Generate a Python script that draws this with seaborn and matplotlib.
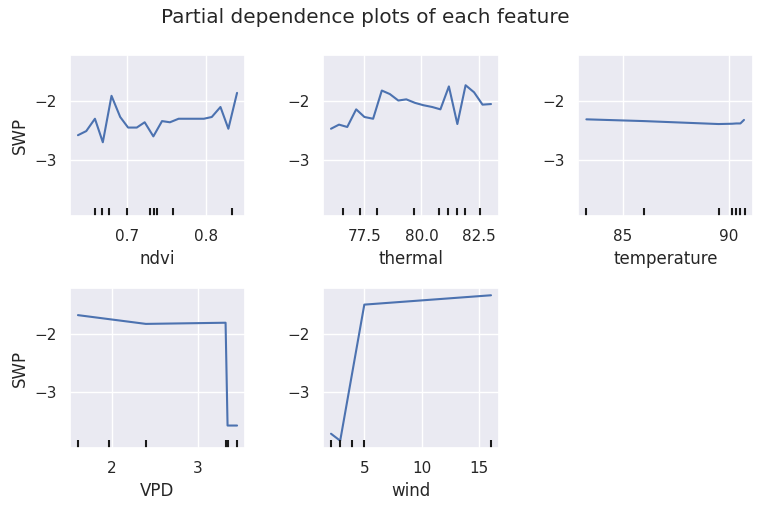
import numpy as np
import pandas as pd
import matplotlib
matplotlib.use("Agg")
import matplotlib.pyplot as plt
import matplotlib.transforms as mtransforms
from matplotlib.ticker import MaxNLocator
import seaborn as sns

features = ["ndvi", "thermal", "temperature", "VPD", "wind"]
target = "SWP"

ndvi_x = [0.6375, 0.648, 0.659, 0.669, 0.680, 0.691, 0.701, 0.712, 0.722, 0.733,
          0.744, 0.754, 0.765, 0.775, 0.786, 0.797, 0.807, 0.818, 0.828, 0.839]
ndvi_y = [-2.58, -2.51, -2.30, -2.70, -1.91, -2.27, -2.45, -2.45, -2.36, -2.60,
          -2.34, -2.36, -2.30, -2.30, -2.30, -2.30, -2.27, -2.10, -2.47, -1.86]
ndvi_dec = [0.6596, 0.6675, 0.677, 0.700, 0.729, 0.734, 0.738, 0.7575, 0.8325]

thermal_x = [76.05, 76.40, 76.76, 77.15, 77.51, 77.89, 78.27, 78.62, 78.99, 79.34,
             79.72, 80.09, 80.47, 80.83, 81.20, 81.57, 81.93, 82.30, 82.67, 83.04]
thermal_y = [-2.47, -2.40, -2.44, -2.14, -2.27, -2.30, -1.82, -1.88, -1.99, -1.97,
             -2.03, -2.07, -2.10, -2.14, -1.75, -2.39, -1.73, -1.85, -2.06, -2.05]
thermal_dec = [76.56, 77.31, 78.04, 79.66, 80.75, 81.18, 81.56, 81.92, 82.56]

temperature_x = [83.27, 86.0, 89.5, 90.14, 90.34, 90.53, 90.70]
temperature_y = [-2.31, -2.34, -2.39, -2.385, -2.38, -2.38, -2.32]
temperature_dec = [83.25, 86.0, 89.5, 90.14, 90.34, 90.53, 90.75]

vpd_x = [1.608, 2.395, 3.319, 3.342, 3.452]
vpd_y = [-1.68, -1.83, -1.81, -3.57, -3.57]
vpd_dec = [1.612, 1.966, 2.40, 3.32, 3.33, 3.342, 3.449]

wind_x = [2.10, 2.90, 5.0, 16.03]
wind_y = [-3.71, -3.83, -1.50, -1.34]
wind_dec = [2.1, 2.9, 3.94, 5.0, 16.03]

series = {
    "ndvi": (ndvi_x, ndvi_y, ndvi_dec),
    "thermal": (thermal_x, thermal_y, thermal_dec),
    "temperature": (temperature_x, temperature_y, temperature_dec),
    "VPD": (vpd_x, vpd_y, vpd_dec),
    "wind": (wind_x, wind_y, wind_dec),
}

sns.set_theme()

fig = plt.figure(figsize=(7.64, 5.11), dpi=100)
W, H = 764, 511
cols_px = [(70, 245), (323, 499), (578, 753)]
rows_px = [(55, 216), (288, 448)]

all_y = np.concatenate([np.array(v[1]) for v in series.values()])
ymin, ymax = all_y.min(), all_y.max()
pad = 0.05 * (ymax - ymin)

for i, feat in enumerate(features):
    r, c = divmod(i, 3)
    x0, x1 = cols_px[c]
    y0, y1 = rows_px[r]
    ax = fig.add_axes([x0 / W, 1 - y1 / H, (x1 - x0) / W, (y1 - y0) / H])
    xs, ys, dec = series[feat]
    df = pd.DataFrame({feat: xs, target: ys})
    sns.lineplot(data=df, x=feat, y=target, ax=ax, color="#4C72B0", sort=False,
                 linewidth=1.5)
    trans = mtransforms.blended_transform_factory(ax.transData, ax.transAxes)
    ax.vlines(dec, 0, 0.05, transform=trans, color="k", linewidth=1.5)
    ax.set_ylim(ymin - pad, ymax + pad)
    ax.xaxis.set_major_locator(MaxNLocator(nbins=3, steps=[1, 2, 2.5, 5, 10]))
    ax.yaxis.set_major_locator(MaxNLocator(nbins=3))
    ax.set_xlabel(feat)
    if c == 0:
        ax.set_ylabel(target)
    else:
        ax.set_ylabel("")

fig.suptitle("Partial dependence plots of each feature", x=0.478, y=0.985)
fig.savefig("out.png", dpi=100)
